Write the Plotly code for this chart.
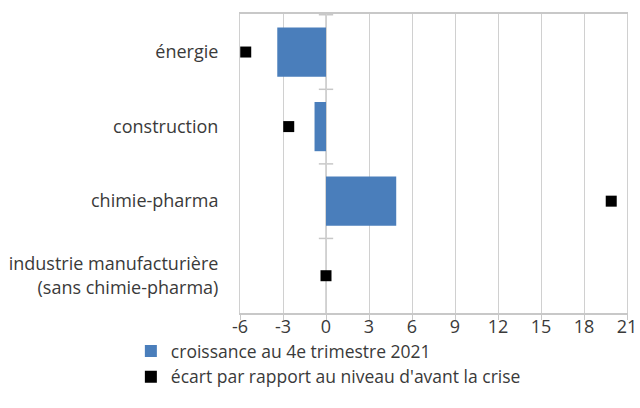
import plotly.graph_objects as go

categories = ["énergie", "construction", "chimie-pharma",
              "industrie manufacturière<br>(sans chimie-pharma)"]
croissance = [-3.4, -0.8, 4.9, 0.0]
ecart = [-5.6, -2.6, 19.9, 0.0]
x_ticks = [-6, -3, 0, 3, 6, 9, 12, 15, 18, 21]

font = dict(family="Open Sans, Liberation Sans, sans-serif", size=17, color="#3a3a3a")

fig = go.Figure()
fig.add_trace(go.Bar(
    y=categories, x=croissance, orientation="h",
    name="croissance au 4e trimestre 2021",
    marker=dict(color="#4a7ebb", line=dict(width=0)),
    width=0.66,
))
fig.add_trace(go.Scatter(
    y=categories, x=ecart, mode="markers",
    name="écart par rapport au niveau d'avant la crise",
    marker=dict(symbol="square", size=11, color="#000000"),
))

# small tick marks on the vertical axis (at x=0) between categories
for b in [-0.5, 0.5, 1.5, 2.5]:
    fig.add_shape(type="line", xref="x", yref="y", x0=-0.5, x1=0.5, y0=b, y1=b,
                  line=dict(color="#c8c8c8", width=1.5), layer="below")
fig.add_shape(type="line", xref="x", yref="paper", x0=0, x1=0, y0=0, y1=1,
              line=dict(color="#c8c8c8", width=1.5), layer="below")

fig.update_layout(
    width=640, height=408,
    margin=dict(l=240, r=13, t=14, b=95, autoexpand=False),
    paper_bgcolor="white", plot_bgcolor="white",
    font=font,
    showlegend=True,
    legend=dict(orientation="v", x=-0.282, xanchor="left", y=-0.067, yanchor="top",
                font=dict(size=17.5, color="#3a3a3a"), itemsizing="constant",
                tracegroupgap=0, itemwidth=30, bgcolor="rgba(0,0,0,0)"),
)
fig.update_xaxes(range=[-6, 21], tickvals=x_ticks, ticktext=[str(v) for v in x_ticks],
                 showgrid=True, gridcolor="#d0d0d0", gridwidth=1,
                 zeroline=False, showline=True, linecolor="#c8c8c8", linewidth=1.5,
                 mirror=True, ticks="outside", ticklen=5, tickcolor="#c8c8c8",
                 ticklabelstandoff=-8,
                 tickfont=dict(size=18, color="#3a3a3a"))
fig.update_yaxes(categoryorder="array", categoryarray=categories, autorange="reversed",
                 showgrid=False, showline=True, linecolor="#d0d0d0", mirror=True,
                 ticks="", ticklabelstandoff=17,
                 tickfont=dict(size=18, color="#3a3a3a"))

fig.write_html("out.html", config={"displayModeBar": False},
               post_script="document.body.style.margin='0';")
